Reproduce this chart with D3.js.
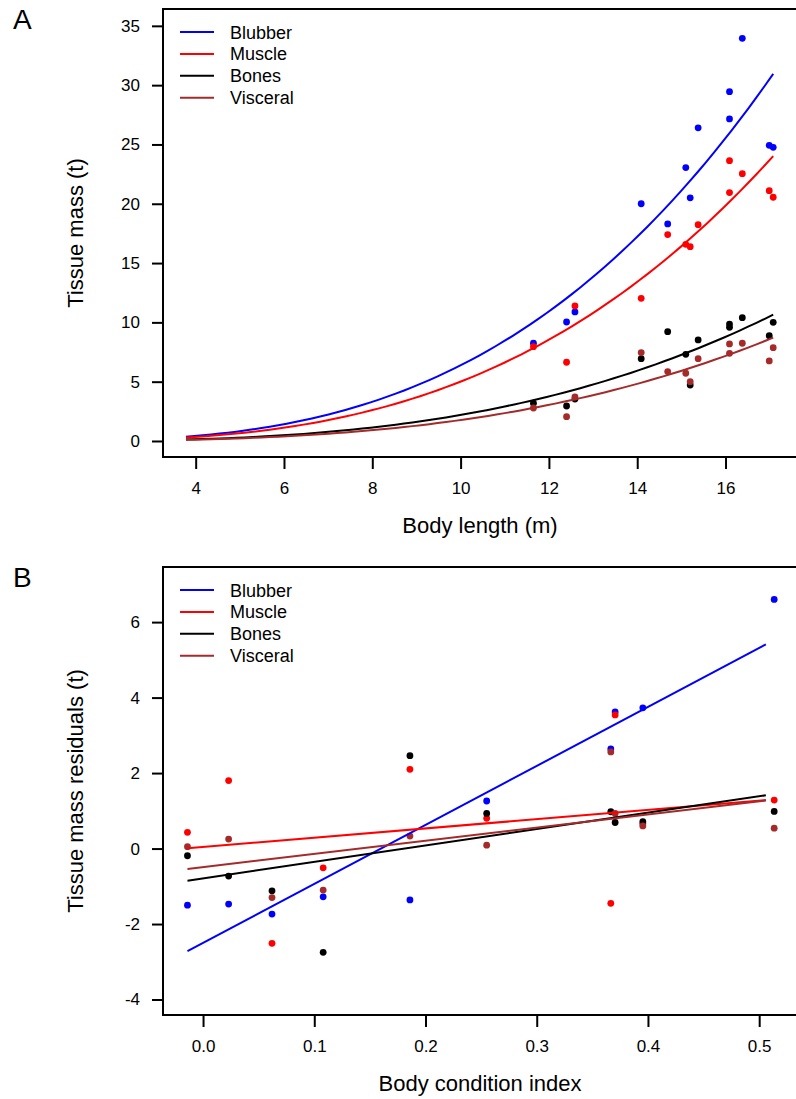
<!DOCTYPE html>
<html>
<head>
<meta charset="utf-8">
<script src="https://cdn.jsdelivr.net/npm/d3@7"></script>
<style>
  html, body { margin: 0; padding: 0; background: #fff; }
  svg { display: block; font-family: "Liberation Sans", Arial, sans-serif; }
</style>
</head>
<body>
<svg id="chart" width="796" height="1099"></svg>
<script>
// ---- Tissue series ----
const tissues = ["Blubber", "Muscle", "Bones", "Visceral"];
const tissueColors = ["#0000ff", "#ff0000", "#000000", "#a52a2a"];

// ---- Panel A: tissue mass (t) against body length (m) ----
const bodyLength = [11.65, 12.40, 12.59, 14.09, 14.69, 15.10, 15.20, 15.38, 16.09, 16.09, 16.38, 16.99, 17.08];
const blubberMass = [8.24, 10.03, 10.88, 20.0, 18.3, 23.05, 20.5, 26.4, 29.45, 27.15, 33.95, 24.93, 24.76];
const muscleMass = [7.95, 6.64, 11.38, 12.03, 17.4, 16.58, 16.38, 18.24, 23.63, 20.94, 22.54, 21.1, 20.55];
const bonesMass = [3.18, 2.95, 3.54, 6.94, 9.22, 7.31, 4.72, 8.52, 9.86, 9.58, 10.4, 8.88, 10.0];
const visceralMass = [2.78, 2.05, 3.71, 7.45, 5.85, 5.71, 5.0, 6.94, 8.18, 7.39, 8.24, 6.75, 7.87];

// allometric fits: mass = a * length^b, predicted over the length range below
const allometricA = [0.00716, 0.00588, 0.002463, 0.001851];
const allometricB = [2.95, 2.93, 2.95, 2.98];
const fitLengthRange = [3.78, 17.08];

const lengthTicks = [4, 6, 8, 10, 12, 14, 16];
const massTicks = [0, 5, 10, 15, 20, 25, 30, 35];

// ---- Panel B: tissue mass residuals (t) against body condition index ----
const conditionIndex = [-0.014, 0.023, 0.062, 0.108, 0.186, 0.255, 0.3666, 0.3705, 0.3954, 0.5135];
const blubberResid = [-1.50, -1.47, -1.735, -1.28, -1.36, 1.26, 2.64, 3.62, 3.73, 6.60];
const muscleResid = [0.43, 1.80, -2.51, -0.51, 2.10, 0.80, -1.45, 3.54, 0.655, 1.285];
const bonesResid = [-0.19, -0.73, -1.12, -2.75, 2.46, 0.93, 0.975, 0.69, 0.71, 0.985];
const visceralResid = [0.05, 0.25, -1.30, -1.10, 0.33, 0.09, 2.56, 0.93, 0.60, 0.54];

// linear fits: residual = intercept + slope * index
const linIntercept = [-2.50, 0.044, -0.79, -0.49];
const linSlope = [15.63, 2.45, 4.35, 3.48];
const fitIndexRange = [-0.014, 0.506];

const indexTicks = [0.0, 0.1, 0.2, 0.3, 0.4, 0.5];
const residTicks = [-4, -2, 0, 2, 4, 6];

const svg = d3.select("#chart");
const TICK_FONT = 17, TITLE_FONT = 22, LEGEND_FONT = 18;

// plain ASCII hyphen for negative tick labels
const plainInt = d => String(d);
const oneDecimal = d => d.toFixed(1);

function drawPanel(cfg) {
  const g = svg.append("g");
  const { x, y } = cfg;
  const [x0, x1] = x.range();
  const [yb, yt] = y.range();

  // points
  cfg.series.forEach((vals, i) => {
    g.append("g").selectAll("circle")
      .data(vals.map((v, j) => [cfg.xs[j], v]))
      .join("circle")
      .attr("cx", d => x(d[0]))
      .attr("cy", d => y(d[1]))
      .attr("r", 3.4)
      .attr("fill", tissueColors[i]);
  });

  // fitted lines
  const line = d3.line().x(d => x(d[0])).y(d => y(d[1]));
  cfg.fits.forEach((pts, i) => {
    g.append("path")
      .attr("d", line(pts))
      .attr("fill", "none")
      .attr("stroke", tissueColors[i])
      .attr("stroke-width", 2);
  });

  // frame
  g.append("rect")
    .attr("x", x0).attr("y", yt)
    .attr("width", x1 - x0).attr("height", yb - yt)
    .attr("fill", "none").attr("stroke", "#000").attr("stroke-width", 2);

  // axes
  const ax = g.append("g").attr("transform", `translate(0,${yb})`)
    .call(d3.axisBottom(x).tickValues(cfg.xTicks).tickFormat(cfg.xFormat).tickSize(12).tickPadding(13));
  ax.select(".domain").remove();
  ax.selectAll("line").attr("stroke-width", 2);
  ax.selectAll("text").attr("font-size", TICK_FONT).attr("fill", "#000")
    .attr("font-family", "Liberation Sans, Arial, sans-serif");

  const ay = g.append("g").attr("transform", `translate(${x0},0)`)
    .call(d3.axisLeft(y).tickValues(cfg.yTicks).tickFormat(plainInt).tickSize(11).tickPadding(12));
  ay.select(".domain").remove();
  ay.selectAll("line").attr("stroke-width", 2);
  ay.selectAll("text").attr("font-size", TICK_FONT).attr("fill", "#000")
    .attr("font-family", "Liberation Sans, Arial, sans-serif");

  // axis titles
  g.append("text")
    .attr("x", (x0 + 797) / 2).attr("y", yb + 76)
    .attr("text-anchor", "middle").attr("font-size", TITLE_FONT)
    .text(cfg.xTitle);
  g.append("text")
    .attr("transform", `translate(83,${(yb + yt) / 2}) rotate(-90)`)
    .attr("text-anchor", "middle").attr("font-size", TITLE_FONT)
    .text(cfg.yTitle);

  // panel letter
  g.append("text")
    .attr("x", 13).attr("y", yt + 20)
    .attr("font-size", 28)
    .text(cfg.letter);

  // legend
  const leg = g.append("g");
  tissues.forEach((name, i) => {
    const ly = yt + 23 + i * 21.9;
    leg.append("line")
      .attr("x1", 180).attr("x2", 214)
      .attr("y1", ly).attr("y2", ly)
      .attr("stroke", tissueColors[i]).attr("stroke-width", 2);
    leg.append("text")
      .attr("x", 230).attr("y", ly + 6.5)
      .attr("font-size", LEGEND_FONT)
      .text(name);
  });
}

// Panel A
const xA = d3.scaleLinear().domain([3.26, 17.63]).range([163, 797.5]);
const yA = d3.scaleLinear().domain([-1.35, 36.42]).range([457, 9]);
const lengthGrid = d3.range(fitLengthRange[0], fitLengthRange[1] + 1e-9, 0.19);
drawPanel({
  x: xA, y: yA, xs: bodyLength,
  series: [blubberMass, muscleMass, bonesMass, visceralMass],
  fits: allometricA.map((a, i) => lengthGrid.map(L => [L, a * Math.pow(L, allometricB[i])])),
  xTicks: lengthTicks, yTicks: massTicks, xFormat: plainInt,
  xTitle: "Body length (m)", yTitle: "Tissue mass (t)", letter: "A"
});

// Panel B
const xB = d3.scaleLinear().domain([-0.036, 0.534]).range([163, 797]);
const yB = d3.scaleLinear().domain([-4.41, 7.46]).range([1015, 567]);
drawPanel({
  x: xB, y: yB, xs: conditionIndex,
  series: [blubberResid, muscleResid, bonesResid, visceralResid],
  fits: linIntercept.map((b0, i) => fitIndexRange.map(c => [c, b0 + linSlope[i] * c])),
  xTicks: indexTicks, yTicks: residTicks, xFormat: oneDecimal,
  xTitle: "Body condition index", yTitle: "Tissue mass residuals (t)", letter: "B"
});
</script>
</body>
</html>
